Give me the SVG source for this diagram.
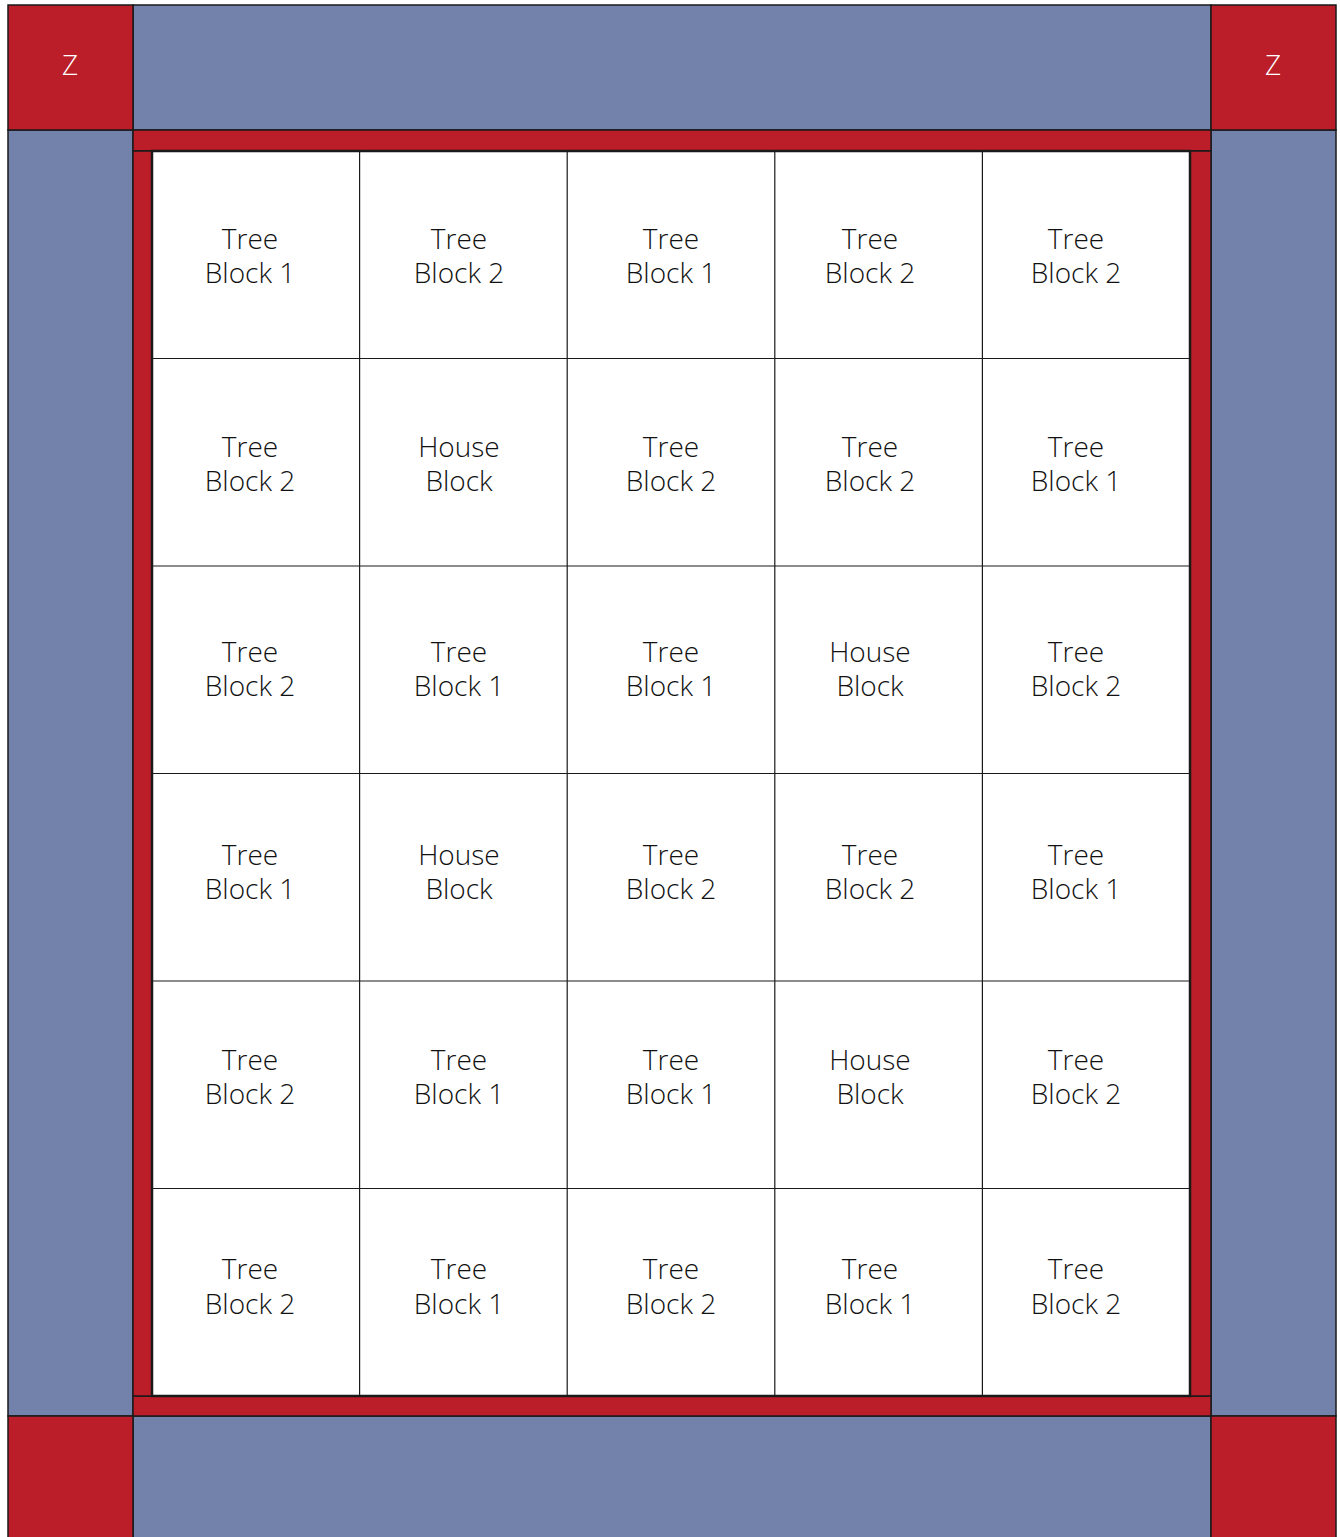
<svg xmlns="http://www.w3.org/2000/svg" width="1340" height="1537" viewBox="0 0 1340 1537">
<style>
.red{fill:#bb1e28;stroke:#1a1a1a;stroke-width:1.5}
.blue{fill:#7282aa;stroke:#1a1a1a;stroke-width:1.5}
.lbl{font-family:"Open Sans","Noto Sans","Liberation Sans",sans-serif;font-weight:300;font-size:28px;fill:#111111;text-anchor:middle}
.z{font-family:"Open Sans","Noto Sans","Liberation Sans",sans-serif;font-weight:300;font-size:28px;fill:#ffffff;text-anchor:middle}
</style>
<rect width="1340" height="1537" fill="#ffffff"/>
<g id="border">
<rect class="blue" x="133" y="5" width="1078" height="125"/>
<rect class="blue" x="133" y="1416" width="1078" height="125"/>
<rect class="blue" x="8" y="130" width="125" height="1286"/>
<rect class="blue" x="1211" y="130" width="125" height="1286"/>
<rect class="red" x="133" y="130" width="1078" height="21"/>
<rect class="red" x="133" y="1396" width="1078" height="20"/>
<rect class="red" x="133" y="151" width="19" height="1245"/>
<rect class="red" x="1190" y="151" width="21" height="1245"/>
</g>
<g id="corner-tl"><rect class="red" x="8" y="5" width="125" height="125"/><text class="z" x="70" y="75">Z</text></g>
<g id="corner-tr"><rect class="red" x="1211" y="5" width="125" height="125"/><text class="z" x="1273" y="75">Z</text></g>
<g id="corner-bl"><rect class="red" x="8" y="1416" width="125" height="125"/></g>
<g id="corner-br"><rect class="red" x="1211" y="1416" width="125" height="125"/></g>
<g id="grid">
<rect x="152" y="151" width="1038" height="1245" fill="#ffffff" stroke="#1a1a1a" stroke-width="2.5"/>
<g stroke="#1a1a1a" stroke-width="1.2">
<line x1="359.6" y1="151" x2="359.6" y2="1396"/>
<line x1="567.2" y1="151" x2="567.2" y2="1396"/>
<line x1="774.8" y1="151" x2="774.8" y2="1396"/>
<line x1="982.4" y1="151" x2="982.4" y2="1396"/>
<line x1="152" y1="358.5" x2="1190" y2="358.5"/>
<line x1="152" y1="566" x2="1190" y2="566"/>
<line x1="152" y1="773.5" x2="1190" y2="773.5"/>
<line x1="152" y1="981" x2="1190" y2="981"/>
<line x1="152" y1="1188.5" x2="1190" y2="1188.5"/>
</g>
</g>
<g id="labels">
<g id="r1">
<text class="lbl" x="250" y="249">Tree</text><text class="lbl" x="250" y="283">Block 1</text>
<text class="lbl" x="459" y="249">Tree</text><text class="lbl" x="459" y="283">Block 2</text>
<text class="lbl" x="671" y="249">Tree</text><text class="lbl" x="671" y="283">Block 1</text>
<text class="lbl" x="870" y="249">Tree</text><text class="lbl" x="870" y="283">Block 2</text>
<text class="lbl" x="1076" y="249">Tree</text><text class="lbl" x="1076" y="283">Block 2</text>
</g>
<g id="r2">
<text class="lbl" x="250" y="457">Tree</text><text class="lbl" x="250" y="491">Block 2</text>
<text class="lbl" x="459" y="457">House</text><text class="lbl" x="459" y="491">Block</text>
<text class="lbl" x="671" y="457">Tree</text><text class="lbl" x="671" y="491">Block 2</text>
<text class="lbl" x="870" y="457">Tree</text><text class="lbl" x="870" y="491">Block 2</text>
<text class="lbl" x="1076" y="457">Tree</text><text class="lbl" x="1076" y="491">Block 1</text>
</g>
<g id="r3">
<text class="lbl" x="250" y="662">Tree</text><text class="lbl" x="250" y="696">Block 2</text>
<text class="lbl" x="459" y="662">Tree</text><text class="lbl" x="459" y="696">Block 1</text>
<text class="lbl" x="671" y="662">Tree</text><text class="lbl" x="671" y="696">Block 1</text>
<text class="lbl" x="870" y="662">House</text><text class="lbl" x="870" y="696">Block</text>
<text class="lbl" x="1076" y="662">Tree</text><text class="lbl" x="1076" y="696">Block 2</text>
</g>
<g id="r4">
<text class="lbl" x="250" y="865">Tree</text><text class="lbl" x="250" y="899">Block 1</text>
<text class="lbl" x="459" y="865">House</text><text class="lbl" x="459" y="899">Block</text>
<text class="lbl" x="671" y="865">Tree</text><text class="lbl" x="671" y="899">Block 2</text>
<text class="lbl" x="870" y="865">Tree</text><text class="lbl" x="870" y="899">Block 2</text>
<text class="lbl" x="1076" y="865">Tree</text><text class="lbl" x="1076" y="899">Block 1</text>
</g>
<g id="r5">
<text class="lbl" x="250" y="1070">Tree</text><text class="lbl" x="250" y="1104">Block 2</text>
<text class="lbl" x="459" y="1070">Tree</text><text class="lbl" x="459" y="1104">Block 1</text>
<text class="lbl" x="671" y="1070">Tree</text><text class="lbl" x="671" y="1104">Block 1</text>
<text class="lbl" x="870" y="1070">House</text><text class="lbl" x="870" y="1104">Block</text>
<text class="lbl" x="1076" y="1070">Tree</text><text class="lbl" x="1076" y="1104">Block 2</text>
</g>
<g id="r6">
<text class="lbl" x="250" y="1279">Tree</text><text class="lbl" x="250" y="1314">Block 2</text>
<text class="lbl" x="459" y="1279">Tree</text><text class="lbl" x="459" y="1314">Block 1</text>
<text class="lbl" x="671" y="1279">Tree</text><text class="lbl" x="671" y="1314">Block 2</text>
<text class="lbl" x="870" y="1279">Tree</text><text class="lbl" x="870" y="1314">Block 1</text>
<text class="lbl" x="1076" y="1279">Tree</text><text class="lbl" x="1076" y="1314">Block 2</text>
</g>
</g>
</svg>
